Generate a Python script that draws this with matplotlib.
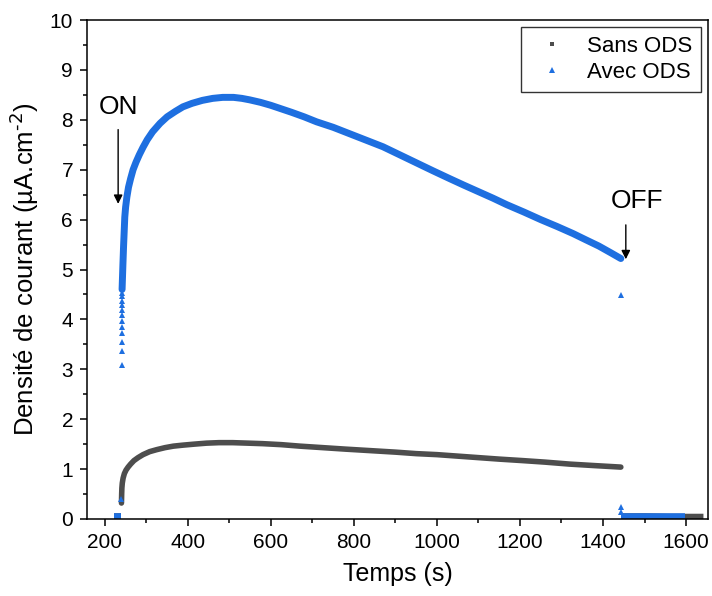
import matplotlib
matplotlib.use("Agg")
import matplotlib.pyplot as plt
from matplotlib.lines import Line2D
from matplotlib.ticker import MultipleLocator

plt.rcParams['font.family'] = ['Liberation Sans', 'DejaVu Sans']
plt.rcParams['mathtext.default'] = 'regular'

# ---------------- data ----------------
# Sans ODS (grey squares)
sans_pre_t = [222, 230, 238]
sans_pre_v = [0.06, 0.06, 0.06]
sans_t = [240, 240.5, 241, 242, 244, 247, 251, 256, 262, 270, 280, 292, 308, 325, 345,
          365, 388, 415, 445, 475, 508, 545, 580, 625, 670, 725, 780, 840, 900, 950,
          1000, 1050, 1100, 1150, 1207, 1260, 1320, 1380, 1443]
sans_v = [0.32, 0.50, 0.62, 0.72, 0.82, 0.91, 0.98, 1.04, 1.10, 1.17, 1.23, 1.29, 1.35, 1.39, 1.43,
          1.46, 1.48, 1.50, 1.52, 1.53, 1.53, 1.52, 1.51, 1.49, 1.46, 1.43, 1.40, 1.37, 1.34, 1.31,
          1.29, 1.26, 1.23, 1.20, 1.17, 1.14, 1.10, 1.07, 1.04]
sans_post_t = [1444, 1500, 1560, 1600, 1642]
sans_post_v = [0.06, 0.06, 0.05, 0.05, 0.05]

# Avec ODS (blue triangles)
avec_pre_t = [222, 230, 238, 240]
avec_pre_v = [0.06, 0.06, 0.06, 0.06]
avec_on_t = [240.0, 240.1, 240.2, 240.3, 240.4, 240.5, 240.6, 240.7, 240.8, 240.9, 241.0, 241.1, 241.3]
avec_on_v = [0.40, 3.09, 3.37, 3.55, 3.72, 3.85, 3.97, 4.09, 4.19, 4.29, 4.37, 4.46, 4.52]
avec_t = [241.5, 242.5, 243.5, 245, 246.5, 248, 250, 253, 257, 262, 268, 275, 283, 292, 302,
          315, 333, 350, 370, 388, 410, 435, 460, 484, 510, 530, 549, 575, 600, 625,
          650, 680, 710, 750, 790, 830, 870, 910, 950, 990, 1031, 1065, 1100, 1135,
          1168, 1210, 1250, 1290, 1328, 1360, 1390, 1420, 1443]
avec_v = [4.60, 4.85, 5.10, 5.45, 5.75, 6.05, 6.25, 6.45, 6.65, 6.82, 7.00, 7.15, 7.30, 7.45, 7.60,
          7.76, 7.93, 8.06, 8.17, 8.26, 8.33, 8.39, 8.43, 8.45, 8.45, 8.43, 8.40, 8.35, 8.29, 8.22,
          8.15, 8.06, 7.96, 7.85, 7.72, 7.59, 7.46, 7.30, 7.14, 6.98, 6.82, 6.69, 6.56, 6.43,
          6.30, 6.15, 6.00, 5.86, 5.72, 5.59, 5.47, 5.33, 5.22]
avec_off_t = [1443.5, 1444, 1444.3]
avec_off_v = [4.49, 0.24, 0.15]
avec_post_t = [1444.5, 1500, 1550, 1598]
avec_post_v = [0.06, 0.06, 0.06, 0.06]

grey = '#4d4d4d'
blue = '#1e6fe0'

fig = plt.figure(figsize=(7.12, 5.96), dpi=100)
ax = fig.add_axes([0.1222, 0.1292, 0.8722, 0.8372])

# Grey series
ax.plot(sans_pre_t, sans_pre_v, '-', color=grey, lw=4.0, solid_capstyle='butt')
ax.plot(sans_t, sans_v, '-', color=grey, lw=4.0, solid_capstyle='round', solid_joinstyle='round')
ax.plot(sans_post_t, sans_post_v, '-', color=grey, lw=4.0, solid_capstyle='butt')

# Blue series
ax.plot(avec_pre_t, avec_pre_v, '-', color=blue, lw=4.0, solid_capstyle='butt')
ax.plot(avec_on_t, avec_on_v, linestyle='none', marker='^', ms=4.5, color=blue, mew=0)
ax.plot(avec_t, avec_v, '-', color=blue, lw=5.0, solid_capstyle='round', solid_joinstyle='round')
ax.plot(avec_off_t, avec_off_v, linestyle='none', marker='^', ms=4.5, color=blue, mew=0)
ax.plot(avec_post_t, avec_post_v, '-', color=blue, lw=4.0, solid_capstyle='butt')

ax.set_xlim(157, 1653)
ax.set_ylim(0, 10)
ax.xaxis.set_major_locator(MultipleLocator(200))
ax.xaxis.set_minor_locator(MultipleLocator(100))
ax.yaxis.set_major_locator(MultipleLocator(1))
ax.yaxis.set_minor_locator(MultipleLocator(0.5))
ax.tick_params(which='both', direction='out', labelsize=15, width=1.1, top=False, right=False)
ax.tick_params(which='major', length=5, pad=5)
ax.tick_params(which='minor', length=3)
for s in ax.spines.values():
    s.set_linewidth(1.1)

ax.set_xlabel('Temps (s)', fontsize=18, labelpad=7)
ax.set_ylabel(r'Densité de courant (µA.cm$^{\text{-2}}$)', fontsize=18.5, labelpad=6)

# Annotations
ax.annotate('', xy=(232, 6.26), xytext=(232, 7.86),
            arrowprops=dict(arrowstyle='-|>', color='black', lw=1.0, mutation_scale=13))
ax.text(232, 8.26, 'ON', fontsize=19, ha='center', va='center')
ax.annotate('', xy=(1455, 5.15), xytext=(1455, 5.95),
            arrowprops=dict(arrowstyle='-|>', color='black', lw=1.0, mutation_scale=13))
ax.text(1482, 6.38, 'OFF', fontsize=19, ha='center', va='center')

handles = [Line2D([], [], linestyle='none', marker='s', ms=3.2, color=grey, mew=0),
           Line2D([], [], linestyle='none', marker='^', ms=4.5, color=blue, mew=0)]
leg = ax.legend(handles, ['Sans ODS', 'Avec ODS'], loc='upper right', fontsize=16,
                frameon=True, fancybox=False, edgecolor='black', handlelength=2.0,
                borderaxespad=0.3, handletextpad=0.6, labelspacing=0.25, borderpad=0.4)
leg.get_frame().set_linewidth(1.0)

fig.savefig('out.png', dpi=100)
